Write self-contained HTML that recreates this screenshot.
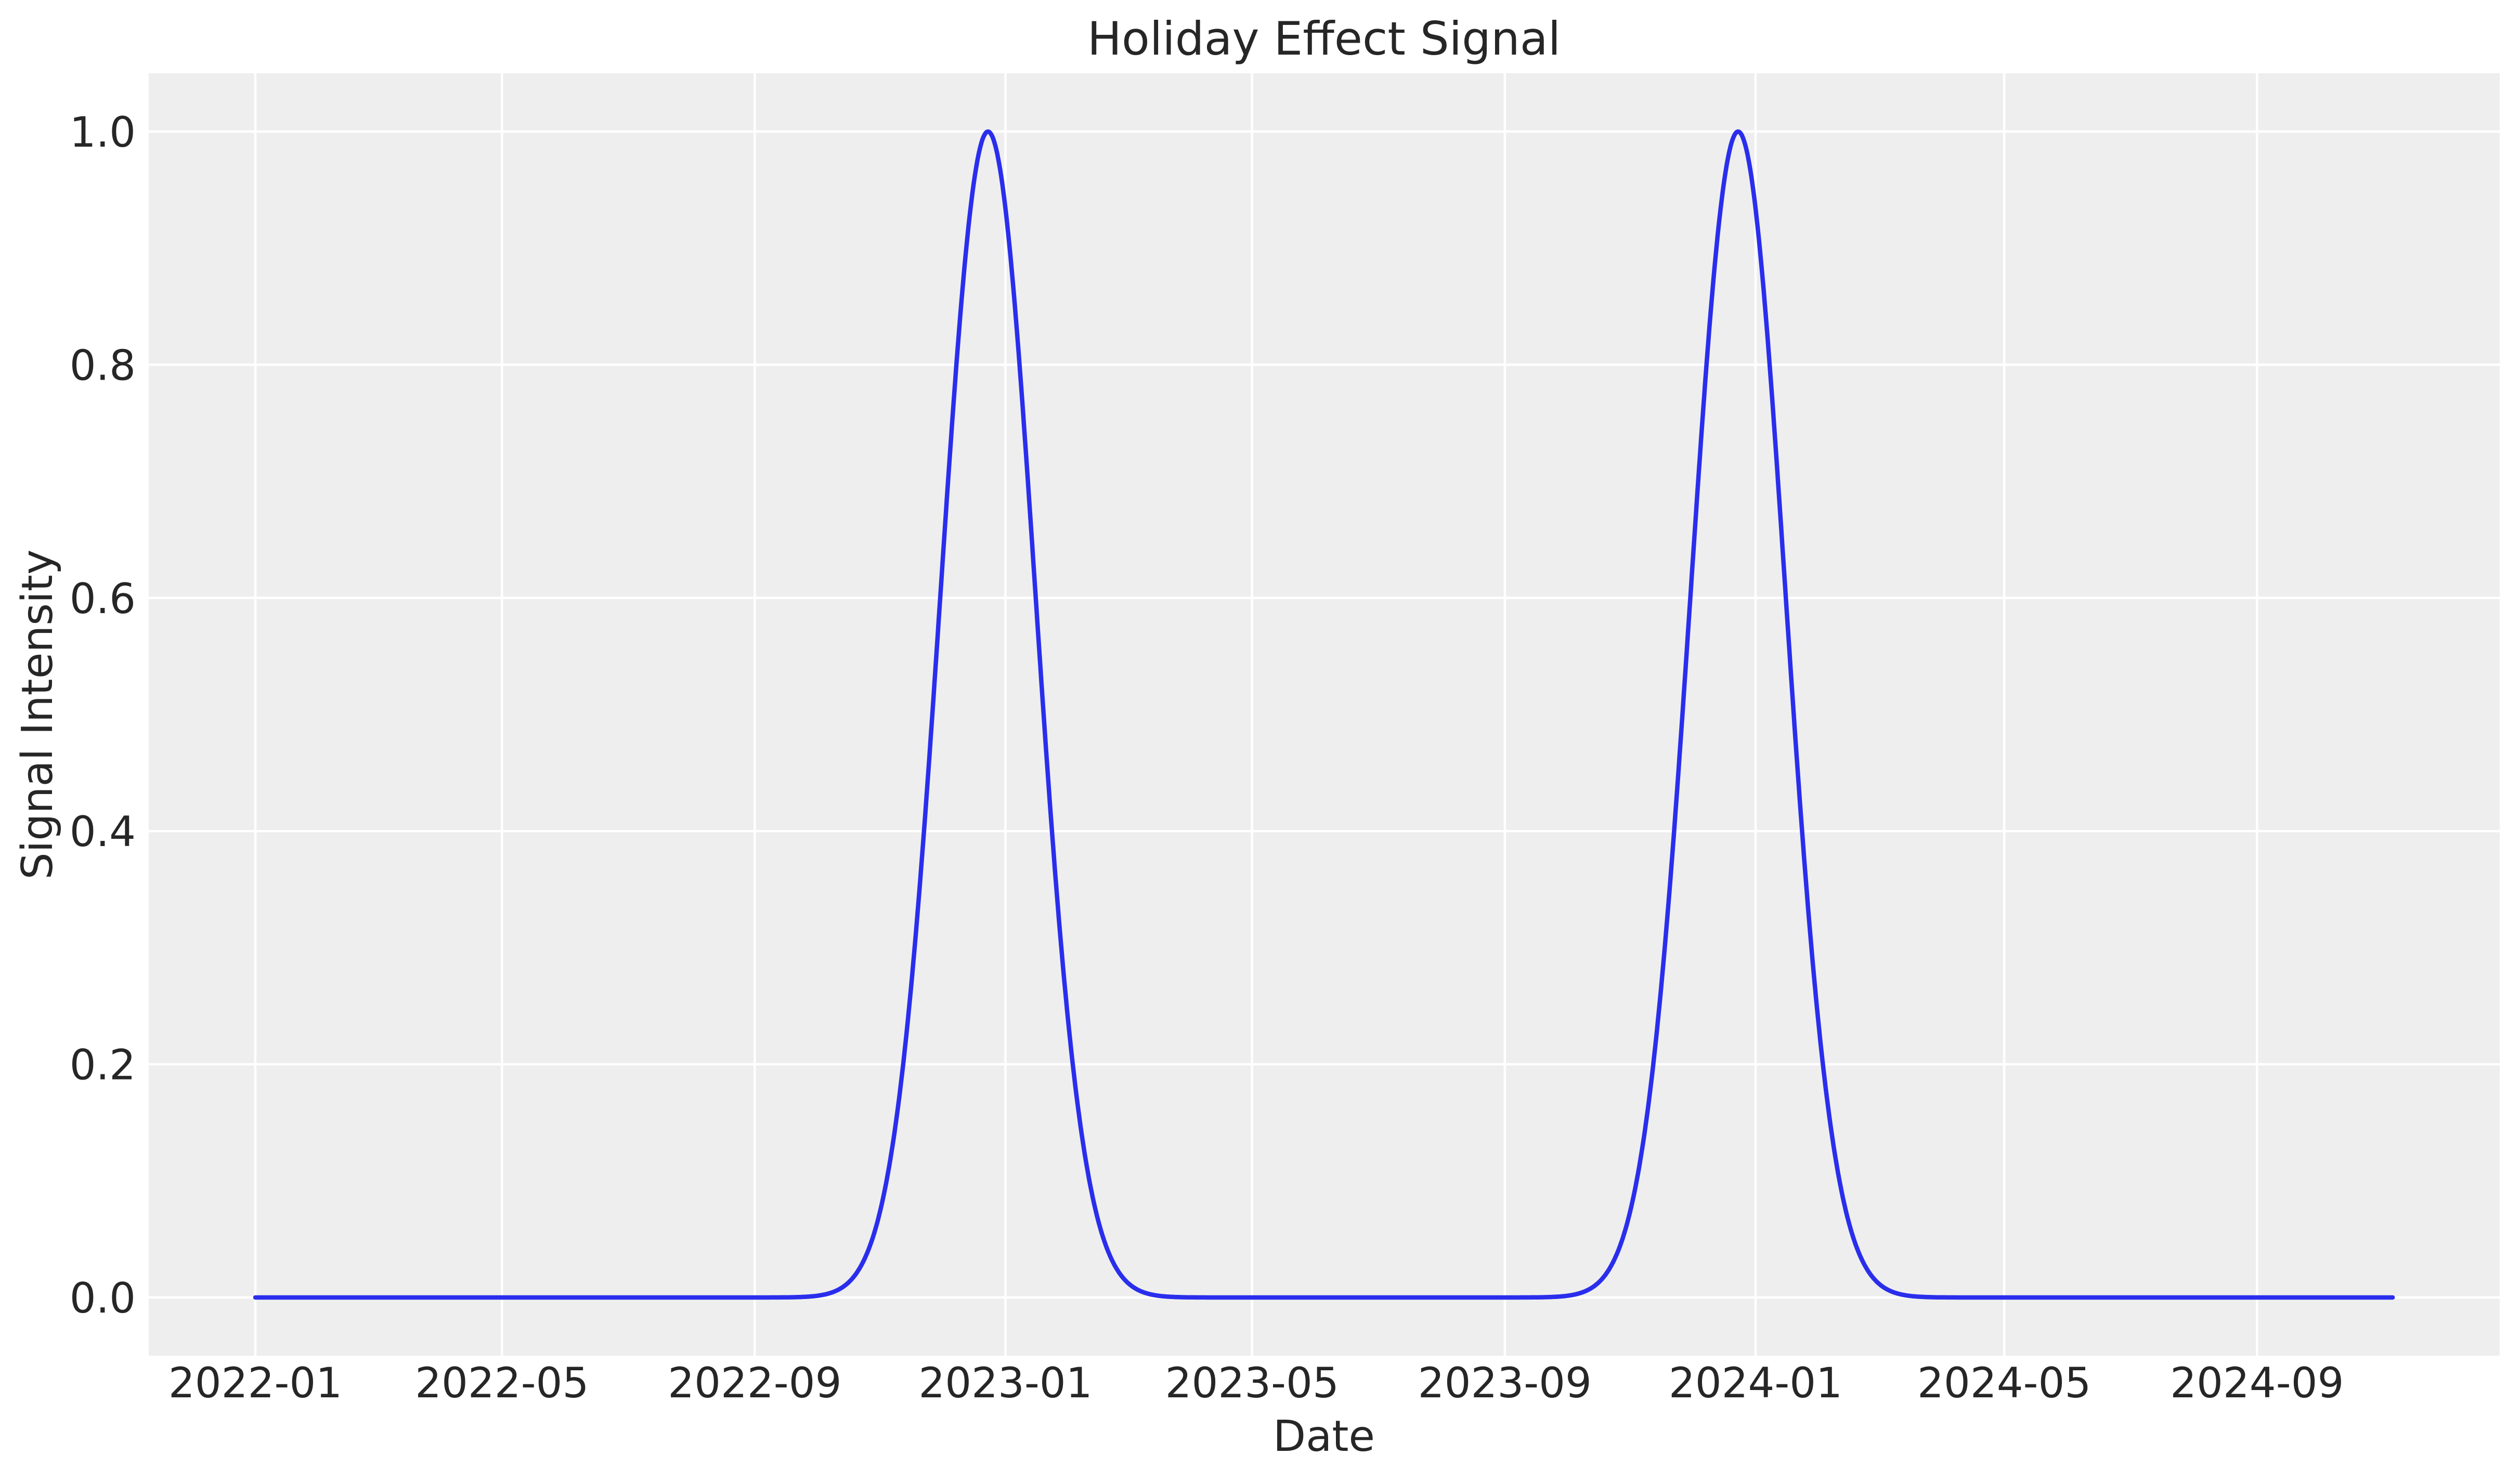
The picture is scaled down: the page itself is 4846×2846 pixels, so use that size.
<!DOCTYPE html>
<html><head><meta charset="utf-8"><style>
html,body{margin:0;padding:0;background:#fff;}
svg{display:block;}
text{font-family:"DejaVu Sans","Liberation Sans",sans-serif;fill:#262626;}
</style></head><body>
<svg id="s" width="4846" height="2846" viewBox="0 0 4846 2846" xmlns="http://www.w3.org/2000/svg">
<rect x="286" y="141" width="4521" height="2466" fill="#eeeeee"/>
<g id="grid" stroke="#ffffff" stroke-width="4.5"></g>
<path id="line" fill="none" stroke="#2a2eec" stroke-width="8.5" stroke-linecap="round" stroke-linejoin="round"/>
<g id="labels" font-size="80"></g>
<text x="2546" y="105" font-size="88" text-anchor="middle">Holiday Effect Signal</text>
<text x="2546" y="2790" font-size="82" text-anchor="middle">Date</text>
<text transform="translate(100,1374) rotate(-90)" font-size="82" text-anchor="middle">Signal Intensity</text>
</svg>
<script>
var ns="http://www.w3.org/2000/svg";
var x0=491,ppd=3.952,y0=2495,y1=253;
function X(d){return x0+d*ppd;}
function Y(v){return y0+(y1-y0)*v;}
var g=document.getElementById('grid'),L=document.getElementById('labels');
var ticks=[[0,"2022-01"],[120,"2022-05"],[243,"2022-09"],[365,"2023-01"],[485,"2023-05"],[608,"2023-09"],[730,"2024-01"],[851,"2024-05"],[974,"2024-09"]];
ticks.forEach(function(t){
 var l=document.createElementNS(ns,'line');l.setAttribute('x1',X(t[0]));l.setAttribute('x2',X(t[0]));l.setAttribute('y1',141);l.setAttribute('y2',2607);g.appendChild(l);
 var tx=document.createElementNS(ns,'text');tx.setAttribute('x',X(t[0]));tx.setAttribute('y',2687);tx.setAttribute('text-anchor','middle');tx.textContent=t[1];L.appendChild(tx);
});
for(var i=0;i<=5;i++){
 var v=i*0.2,y=Y(v);
 var l=document.createElementNS(ns,'line');l.setAttribute('x1',286);l.setAttribute('x2',4807);l.setAttribute('y1',y);l.setAttribute('y2',y);g.appendChild(l);
 var tx=document.createElementNS(ns,'text');tx.setAttribute('x',261);tx.setAttribute('y',y+29);tx.setAttribute('text-anchor','end');tx.textContent=v.toFixed(1);L.appendChild(tx);
}
var p="",sig=23,c1=356.5,c2=721.5;
for(var d=0;d<=1040;d+=0.5){
 var v=Math.exp(-Math.pow(d-c1,2)/(2*sig*sig))+Math.exp(-Math.pow(d-c2,2)/(2*sig*sig));
 p+=(d==0?"M":"L")+X(d).toFixed(1)+","+Y(v).toFixed(1);
}
document.getElementById('line').setAttribute('d',p);
</script>
</body></html>
